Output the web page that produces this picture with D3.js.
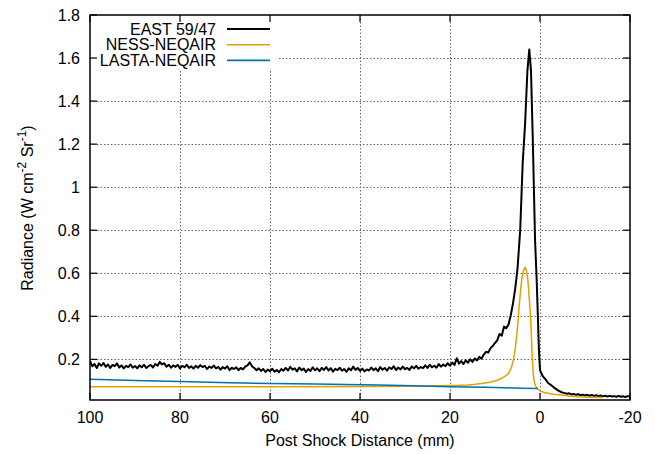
<!DOCTYPE html>
<html>
<head>
<meta charset="utf-8">
<script src="https://cdn.jsdelivr.net/npm/d3@7"></script>
<style>
  body { margin: 0; background: #fff; }
  svg { display: block; }
  text { font-family: "Liberation Sans", Arial, Helvetica, sans-serif; font-size: 16px; fill: #000; }
</style>
</head>
<body>
<svg id="chart" width="655" height="454"></svg>
<script>
// series: [post shock distance (mm), radiance]
const east = [
  [100,0.192],[99.5,0.168],[99,0.178],[98.5,0.160],[98,0.181],[97.5,0.170],[97,0.183],[96.5,0.165],[96,0.176],[95.5,0.160],
  [95,0.174],[94.5,0.168],[94,0.181],[93.5,0.162],[93,0.172],[92.5,0.158],[92,0.170],[91.5,0.164],[91,0.176],[90.5,0.161],
  [90,0.169],[89.5,0.158],[89,0.172],[88.5,0.163],[88,0.175],[87.5,0.160],[87,0.168],[86.5,0.174],[86,0.162],[85.5,0.178],
  [85,0.170],[84.5,0.188],[84,0.176],[83.5,0.182],[83,0.166],[82.5,0.175],[82,0.161],[81.5,0.172],[81,0.165],[80.5,0.174],
  [80,0.158],[79.5,0.170],[79,0.163],[78.5,0.175],[78,0.160],[77.5,0.168],[77,0.157],[76.5,0.170],[76,0.161],[75.5,0.173],
  [75,0.164],[74.5,0.170],[74,0.155],[73.5,0.166],[73,0.160],[72.5,0.171],[72,0.158],[71.5,0.165],[71,0.152],[70.5,0.164],
  [70,0.157],[69.5,0.168],[69,0.150],[68.5,0.161],[68,0.155],[67.5,0.163],[67,0.150],[66.5,0.160],[66,0.153],[65.5,0.166],
  [65,0.172],[64.5,0.186],[64,0.168],[63.5,0.160],[63,0.149],[62.5,0.158],[62,0.146],[61.5,0.155],[61,0.141],[60.5,0.152],
  [60,0.145],[59.5,0.156],[59,0.143],[58.5,0.150],[58,0.140],[57.5,0.155],[57,0.147],[56.5,0.160],[56,0.148],[55.5,0.165],
  [55,0.152],[54.5,0.158],[54,0.144],[53.5,0.162],[53,0.150],[52.5,0.157],[52,0.141],[51.5,0.155],[51,0.146],[50.5,0.163],
  [50,0.149],[49.5,0.158],[49,0.145],[48.5,0.160],[48,0.151],[47.5,0.164],[47,0.148],[46.5,0.159],[46,0.143],[45.5,0.156],
  [45,0.150],[44.5,0.161],[44,0.147],[43.5,0.155],[43,0.142],[42.5,0.158],[42,0.149],[41.5,0.166],[41,0.151],[40.5,0.160],
  [40,0.146],[39.5,0.157],[39,0.144],[38.5,0.153],[38,0.148],[37.5,0.162],[37,0.150],[36.5,0.158],[36,0.145],[35.5,0.164],
  [35,0.152],[34.5,0.160],[34,0.147],[33.5,0.163],[33,0.155],[32.5,0.168],[32,0.150],[31.5,0.162],[31,0.153],[30.5,0.166],
  [30,0.154],[29.5,0.160],[29,0.151],[28.5,0.167],[28,0.158],[27.5,0.170],[27,0.156],[26.5,0.164],[26,0.159],[25.5,0.172],
  [25,0.160],[24.5,0.175],[24,0.163],[23.5,0.170],[23,0.161],[22.5,0.178],[22,0.166],[21.5,0.176],[21,0.168],[20.5,0.182],
  [20,0.170],[19.5,0.185],[19,0.174],[18.5,0.205],[18,0.180],[17.5,0.192],[17,0.178],[16.5,0.196],[16,0.184],[15.5,0.200],
  [15,0.188],[14.5,0.204],[14,0.195],[13.5,0.212],[13,0.203],[12.5,0.222],[12,0.235],[11.5,0.231],[11,0.252],[10.5,0.262],
  [10,0.276],[9.5,0.288],[9,0.318],[8.5,0.310],[8,0.352],[7.5,0.345],[7,0.362],[6.5,0.405],[6,0.46],[5.5,0.53],
  [5,0.62],[4.4,0.80],[3.85,1.11],[3.3,1.30],[2.8,1.54],[2.38,1.64],[2.0,1.54],[1.6,1.22],[1.1,0.755],[0.74,0.57],
  [0.52,0.43],[0.25,0.25],[0,0.15],[-0.3,0.135],[-0.7,0.119],[-1.2,0.108],[-1.85,0.089],[-2.5,0.080],[-3.3,0.066],[-4,0.056],
  [-4.8,0.047],[-5.5,0.043],[-6,0.040],[-6.5,0.042],[-7,0.037],[-7.5,0.039],[-8,0.035],[-8.5,0.038],[-9,0.033],[-9.5,0.036],
  [-10,0.032],[-10.5,0.035],[-11,0.031],[-11.5,0.034],[-12,0.030],[-12.5,0.033],[-13,0.029],[-13.5,0.032],[-14,0.028],[-14.5,0.031],
  [-15,0.027],[-15.5,0.030],[-16,0.027],[-16.5,0.029],[-17,0.026],[-17.5,0.030],[-18,0.026],[-18.5,0.028],[-19,0.025],[-19.5,0.029],
  [-20,0.026]
];

const ness = [
  [100,0.073],[80,0.073],[60,0.073],[40,0.074],[30,0.075],[25,0.076],[20,0.078],[18,0.079],[16,0.081],[14.4,0.084],
  [12.5,0.089],[10.7,0.096],[9.5,0.103],[8.5,0.112],[7.5,0.125],[7,0.135],[6.4,0.16],[5.9,0.197],[5.5,0.25],[5.2,0.305],
  [4.9,0.37],[4.7,0.43],[4.4,0.50],[4.07,0.57],[3.7,0.61],[3.3,0.628],[3.0,0.61],[2.7,0.57],[2.45,0.50],[2.2,0.43],
  [2.0,0.35],[1.85,0.274],[1.7,0.2],[1.5,0.135],[1.3,0.10],[1.1,0.081],[0.6,0.064],[0,0.053],[-1,0.046],[-1.85,0.042],
  [-3,0.038],[-4.8,0.034],[-6.5,0.030],[-8.5,0.026],[-11,0.024],[-14,0.023]
];

const lasta = [
  [100,0.107],[90,0.102],[80,0.097],[69,0.091],[60,0.088],[50,0.085],[36,0.081],[28,0.077],[20,0.073],[12,0.070],
  [8,0.068],[4,0.066],[0.5,0.065]
];

const xTicks = [100, 80, 60, 40, 20, 0, -20];
const yTicks = [0.2, 0.4, 0.6, 0.8, 1, 1.2, 1.4, 1.6, 1.8];
const seriesNames = ["EAST 59/47", "NESS-NEQAIR", "LASTA-NEQAIR"];
const seriesColors = ["#000000", "#e69f00", "#0072b2"];

const svg = d3.select("#chart");
const mLeft = 90, mRight = 630, mTop = 15, mBottom = 400;

const x = d3.scaleLinear().domain([100, -20]).range([mLeft, mRight]);
const y = d3.scaleLinear().domain([0.011, 1.8]).range([mBottom, mTop]);

// grid
const grid = svg.append("g").attr("stroke", "#666").attr("stroke-width", 1).attr("stroke-dasharray", "1.5,2");
grid.selectAll(".gx").data(xTicks.slice(1, -1)).join("line")
  .attr("x1", d => Math.round(x(d)) + 0.5).attr("x2", d => Math.round(x(d)) + 0.5)
  .attr("y1", mTop).attr("y2", mBottom);
grid.selectAll(".gy").data(yTicks.slice(0, -1)).join("line")
  .attr("x1", mLeft).attr("x2", mRight)
  .attr("y1", d => Math.round(y(d)) + 0.5).attr("y2", d => Math.round(y(d)) + 0.5);

// curves
svg.append("clipPath").attr("id", "clip").append("rect")
  .attr("x", mLeft).attr("y", mTop).attr("width", mRight - mLeft).attr("height", mBottom - mTop);

const line = d3.line().x(d => x(d[0])).y(d => y(d[1]));
const plot = svg.append("g").attr("clip-path", "url(#clip)");
[east, ness, lasta].forEach((s, i) => {
  plot.append("path").datum(s)
    .attr("fill", "none")
    .attr("stroke", seriesColors[i])
    .attr("stroke-width", i === 0 ? 2 : 1.5)
    .attr("stroke-linejoin", "round")
    .attr("d", line);
});

// legend
const legend = svg.append("g");
legend.append("rect").attr("x", mLeft + 1).attr("y", mTop + 1).attr("width", 188).attr("height", 53).attr("fill", "#fff");
seriesNames.forEach((name, i) => {
  const ly = 29 + i * 15.7;
  legend.append("text").attr("x", 216).attr("y", ly + 5.5).attr("text-anchor", "end").text(name);
  legend.append("line").attr("x1", 227).attr("x2", 270).attr("y1", ly).attr("y2", ly)
    .attr("stroke", seriesColors[i]).attr("stroke-width", i === 0 ? 2 : 1.6);
});

// axes frame and ticks
svg.append("rect").attr("x", mLeft).attr("y", mTop).attr("width", mRight - mLeft).attr("height", mBottom - mTop)
  .attr("fill", "none").attr("stroke", "#000").attr("stroke-width", 1.5);

const ticks = svg.append("g").attr("stroke", "#000").attr("stroke-width", 1.2);
xTicks.forEach(t => {
  ticks.append("line").attr("x1", x(t)).attr("x2", x(t)).attr("y1", mBottom).attr("y2", mBottom - 7);
  ticks.append("line").attr("x1", x(t)).attr("x2", x(t)).attr("y1", mTop).attr("y2", mTop + 7);
});
yTicks.forEach(t => {
  ticks.append("line").attr("x1", mLeft).attr("x2", mLeft + 7).attr("y1", y(t)).attr("y2", y(t));
  ticks.append("line").attr("x1", mRight).attr("x2", mRight - 7).attr("y1", y(t)).attr("y2", y(t));
});

svg.append("g").selectAll("text").data(xTicks).join("text")
  .attr("x", d => x(d)).attr("y", 423).attr("text-anchor", "middle")
  .text(d => String(d));
svg.append("g").selectAll("text").data(yTicks).join("text")
  .attr("x", 80).attr("y", d => y(d) + 5.5).attr("text-anchor", "end")
  .text(d => String(d));

// axis titles
svg.append("text").attr("x", 360).attr("y", 446).attr("text-anchor", "middle").text("Post Shock Distance (mm)");

const yt = svg.append("text").attr("transform", "translate(33,208) rotate(-90)").attr("text-anchor", "middle");
yt.append("tspan").text("Radiance (W cm");
yt.append("tspan").attr("dy", -7).attr("font-size", 12).text("-2");
yt.append("tspan").attr("dy", 7).text(" Sr");
yt.append("tspan").attr("dy", -7).attr("font-size", 12).text("-1");
yt.append("tspan").attr("dy", 7).text(")");
</script>
</body>
</html>
